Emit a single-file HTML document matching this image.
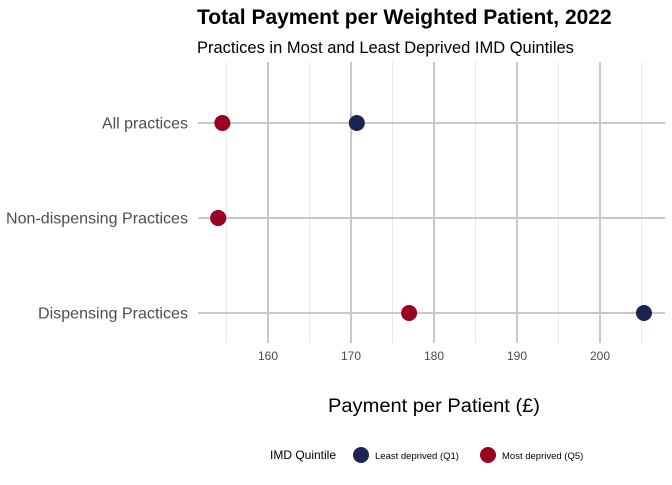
<!DOCTYPE html>
<html><head><meta charset="utf-8"><style>
body{margin:0;background:#fff;font-family:"Liberation Sans",sans-serif}
</style></head><body>
<svg width="672" height="480" xmlns="http://www.w3.org/2000/svg">
<g id="grid"></g><g id="marks"></g>
<text x="197" y="24" font-size="21" font-weight="bold" fill="#000">Total Payment per Weighted Patient, 2022</text>
<text x="197" y="53" font-size="16.5" fill="#000">Practices in Most and Least Deprived IMD Quintiles</text>
<text x="434" y="412" font-size="19" text-anchor="middle" textLength="212" lengthAdjust="spacingAndGlyphs" fill="#000">Payment per Patient (£)</text>
<g>
<text x="270" y="459" font-size="12" fill="#000">IMD Quintile</text>
<circle cx="361" cy="455" r="8" fill="#1a2451"/>
<text x="375" y="459" font-size="9.5" fill="#000">Least deprived (Q1)</text>
<circle cx="488" cy="455" r="8" fill="#990022"/>
<text x="502" y="459" font-size="9.5" fill="#000">Most deprived (Q5)</text>
</g>
</svg>
<script>
const categories=["All practices","Non-dispensing Practices","Dispensing Practices"];
const q1Values=[170.7,154.0,205.3];
const q5Values=[154.5,154.0,177.0];
const majorTicks=[160,170,180,190,200];
const minorTicks=[155,165,175,185,195,205];
const ns="http://www.w3.org/2000/svg";
const x=v=>268+(v-160)*8.3;
const y=i=>123+i*95;
const L=198,R=665,T=62,B=343;
const grid=document.getElementById('grid'),marks=document.getElementById('marks');
function mk(tag,attrs,parent){const e=document.createElementNS(ns,tag);for(const k in attrs)e.setAttribute(k,attrs[k]);parent.appendChild(e);return e;}
minorTicks.forEach(t=>{const l=mk('line',{x1:x(t),x2:x(t),y1:T,y2:B,stroke:'#e8e8e8','stroke-width':1},grid);

});
majorTicks.forEach(t=>{const l=mk('line',{x1:x(t),x2:x(t),y1:T,y2:B,stroke:'#c8c8c8','stroke-width':2},grid);


const tx=mk('text',{x:x(t),y:360,'font-size':12,'text-anchor':'middle',fill:'#4d4d4d'},grid);tx.textContent=t;

});
categories.forEach((c,i)=>{const l=mk('line',{x1:L,x2:R,y1:y(i),y2:y(i),stroke:'#c8c8c8','stroke-width':2},grid);


const tx=mk('text',{x:188,y:y(i)+5.5,'font-size':16,'text-anchor':'end',fill:'#4d4d4d'},grid);tx.textContent=c;


const target=({"All practices":86,"Non-dispensing Practices":182,"Dispensing Practices":150})[c];
tx.setAttribute('textLength',target);
tx.setAttribute('lengthAdjust','spacingAndGlyphs');
const a=mk('circle',{cx:x(q1Values[i]),cy:y(i),r:8,fill:'#1a2451'},marks);


const b=mk('circle',{cx:x(q5Values[i]),cy:y(i),r:8,fill:'#990022'},marks);

});
</script>
</body></html>
